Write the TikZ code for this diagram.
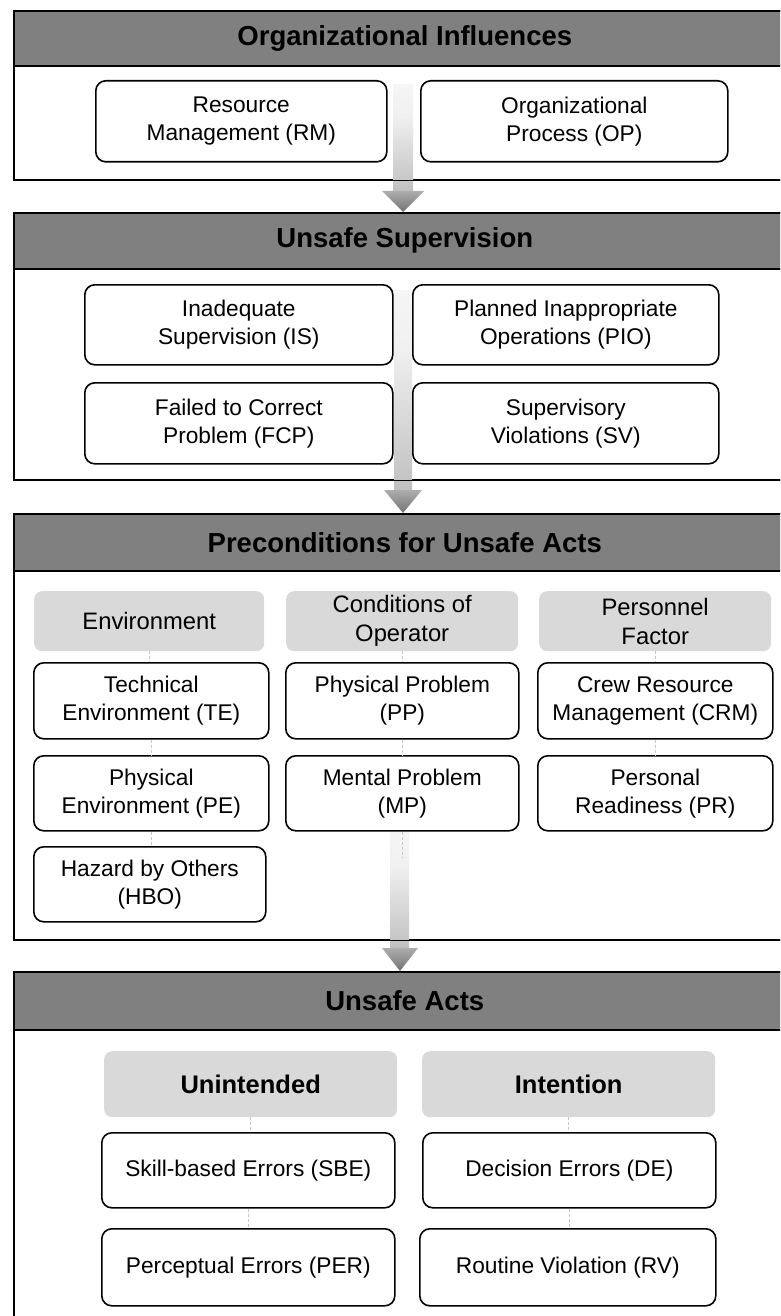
\documentclass[tikz,border=0pt]{standalone}
\usepackage{fontspec}
\setmainfont{Liberation Sans}
\usetikzlibrary{calc}
\pgfdeclareverticalshading{shaftshade}{100bp}{color(0bp)=(black!38); color(30bp)=(black!22); color(60bp)=(black!6); color(100bp)=(white)}
\begin{document}
\begin{tikzpicture}[x=1pt,y=-1pt,
  sect/.style={draw=black, line width=1.6pt, fill=white, rectangle, inner sep=0pt, anchor=north west, minimum width=782pt},
  head/.style={draw=black, line width=1.6pt, fill=black!50, rectangle, inner sep=0pt, anchor=north west, minimum width=782pt, font=\fontsize{27.5}{32}\selectfont\bfseries},
  item/.style={draw=black, line width=1.6pt, fill=white, rounded corners=10pt, align=center, inner sep=0pt, anchor=north west, font=\fontsize{22.7}{28}\selectfont},
  cat/.style={fill=black!15, rounded corners=8pt, align=center, inner sep=0pt, anchor=north west, font=\fontsize{23.8}{29}\selectfont},
  catb/.style={cat, font=\fontsize{25.5}{30}\selectfont\bfseries},
  conn/.style={draw=black!22, line width=0.7pt, dash pattern=on 3pt off 2pt},
  shaft/.style={shading=shaftshade},
  tip/.style={top color=black!32, bottom color=black!55}
]
\useasboundingbox (0,0) rectangle (780,1316);
\clip (0,0) rectangle (780,1316);

% sections
\node[sect, minimum height=169pt] (S1) at (13,10) {};
\node[head, minimum height=55pt] (H1) at (13,10) {Organizational Influences};
\node[sect, minimum height=267pt] (S2) at (13,212) {};
\node[head, minimum height=56pt] (H2) at (13,212) {Unsafe Supervision};
\node[sect, minimum height=426pt] (S3) at (13,513) {};
\node[head, minimum height=57pt] (H3) at (13,513) {Preconditions for Unsafe Acts};
\node[sect, minimum height=400pt] (S4) at (13,971) {};
\node[head, minimum height=58pt] (H4) at (13,971) {Unsafe Acts};

% arrows
\coordinate (A1s) at (403,85);
\coordinate (A1t) at ($(H2.north west)+(390,0)$);
\shade[shaft] ($(A1s)+(-10,0)$) rectangle ($(A1t)+(10,-21)$);
\shade[tip] ($(A1t)+(-21,-21)$) -- ($(A1t)+(21,-21)$) -- (A1t) -- cycle;

\coordinate (A2s) at (403,290);
\coordinate (A2t) at ($(H3.north west)+(390,0)$);
\shade[shaft] ($(A2s)+(-9,0)$) rectangle ($(A2t)+(9,-23)$);
\shade[tip] ($(A2t)+(-19,-23)$) -- ($(A2t)+(19,-23)$) -- (A2t) -- cycle;

\coordinate (A3s) at (400,832);
\coordinate (A3t) at ($(H4.north west)+(387,0)$);
\shade[shaft] ($(A3s)+(-10,0)$) rectangle ($(A3t)+(9,-23)$);
\shade[tip] ($(A3t)+(-18,-23)$) -- ($(A3t)+(18,-23)$) -- (A3t) -- cycle;

% section bottom lines over the arrow shafts
\draw[line width=1.6pt] (S1.south west) -- (S1.south east);
\draw[line width=1.6pt] (S2.south west) -- (S2.south east);
\draw[line width=1.6pt] (S3.south west) -- (S3.south east);

% section 1
\node[item, minimum width=291pt, minimum height=81pt] (RM) at (95,80) {Resource\\Management (RM)};
\node[item, minimum width=307pt, minimum height=81pt] (OP) at (420,80) {Organizational\\Process (OP)};

% section 2
\node[item, minimum width=308pt, minimum height=80pt] (IS) at (84,284) {Inadequate\\Supervision (IS)};
\node[item, minimum width=306pt, minimum height=80pt] (PIO) at (412,284) {Planned Inappropriate\\Operations (PIO)};
\node[item, minimum width=308pt, minimum height=81pt] (FCP) at (84,382) {Failed to Correct\\Problem (FCP)};
\node[item, minimum width=306pt, minimum height=81pt] (SV) at (412,382) {Supervisory\\Violations (SV)};

% section 3
\node[cat, minimum width=230pt, minimum height=60pt] (ENV) at (34,591) {Environment};
\node[cat, minimum width=232pt, minimum height=60pt] (COND) at (286,591) {Conditions of\\Operator};
\node[cat, minimum width=232pt, minimum height=60pt] (PERS) at (539,591) {Personnel\\Factor};
\node[item, minimum width=235pt, minimum height=76pt] (TE) at (33,662) {Technical\\Environment (TE)};
\node[item, minimum width=233pt, minimum height=76pt] (PP) at (285,662) {Physical Problem\\(PP)};
\node[item, minimum width=235pt, minimum height=76pt] (CRM) at (537,662) {Crew Resource\\Management (CRM)};
\node[item, minimum width=235pt, minimum height=75pt] (PE) at (33,755) {Physical\\Environment (PE)};
\node[item, minimum width=233pt, minimum height=75pt] (MP) at (285,755) {Mental Problem\\(MP)};
\node[item, minimum width=235pt, minimum height=75pt] (PR) at (537,755) {Personal\\Readiness (PR)};
\node[item, minimum width=232pt, minimum height=75pt] (HBO) at (33,846) {Hazard by Others\\(HBO)};
\coordinate (MPend) at (402,857);

% section 4
\node[catb, minimum width=293pt, minimum height=66pt] (UN) at (104,1051) {Unintended};
\node[catb, minimum width=293pt, minimum height=66pt] (INT) at (422,1051) {Intention};
\node[item, minimum width=293pt, minimum height=75pt] (SBE) at (101,1132) {Skill-based Errors (SBE)};
\node[item, minimum width=293pt, minimum height=75pt] (DE) at (422,1132) {Decision Errors (DE)};
\node[item, minimum width=293pt, minimum height=77pt] (PER) at (101,1228) {Perceptual Errors (PER)};
\node[item, minimum width=296pt, minimum height=77pt] (RV) at (419,1228) {Routine Violation (RV)};

% faint connectors
\draw[conn] (ENV.south) -- (ENV.south |- TE.north);
\draw[conn] (TE.south) -- (PE.north);
\draw[conn] (PE.south) -- (PE.south |- HBO.north);
\draw[conn] (COND.south) -- (COND.south |- PP.north);
\draw[conn] (PP.south) -- (MP.north);
\draw[conn] (MP.south) -- (MP.south |- MPend);
\draw[conn] (PERS.south) -- (PERS.south |- CRM.north);
\draw[conn] (CRM.south) -- (PR.north);
\draw[conn] (UN.south) -- (UN.south |- SBE.north);
\draw[conn] (SBE.south) -- (PER.north);
\draw[conn] (INT.south) -- (INT.south |- DE.north);
\draw[conn] (DE.south) -- (DE.south |- RV.north);
\end{tikzpicture}
\end{document}
